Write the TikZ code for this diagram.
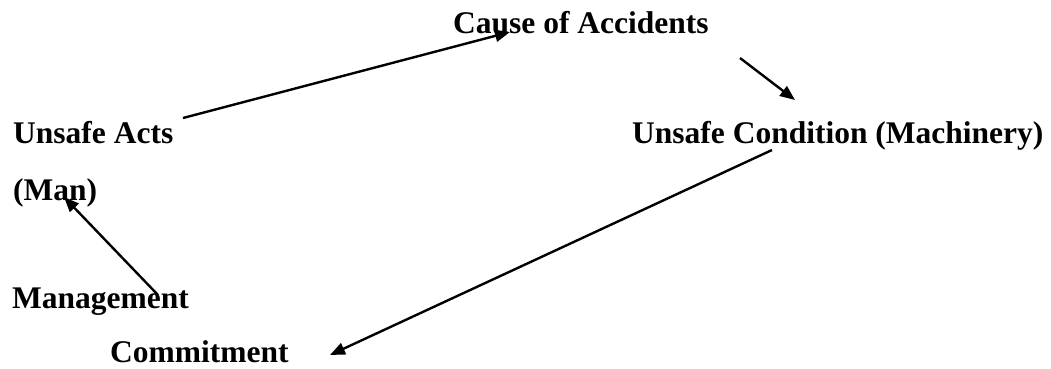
\documentclass[tikz,border=0pt]{standalone}
\usepackage{fontspec}
\setmainfont{Liberation Serif}
\usepackage{tikz}
\usetikzlibrary{arrows.meta}

\begin{document}
\begin{tikzpicture}[x=1pt, y=-1pt,
    lbl/.style={anchor=base west, inner sep=0pt, font=\fontsize{31.5}{36}\selectfont\bfseries},
    flow/.style={line width=2.4pt, -{Triangle[length=15pt, width=12pt]}}]
  \useasboundingbox (0,0) rectangle (1051,368);
  % Labels
  \node[lbl] (cause) at (453,33) {Cause of Accidents};
  \node[lbl] (acts) at (13,143) {Unsafe Acts};
  \node[lbl] (man) at (13,200) {(Man)};
  \node[lbl] (cond) at (632,143) {Unsafe Condition (Machinery)};
  \node[lbl] (mgmt) at (12,308) {Management};
  \node[lbl] (commit) at (110,362) {Commitment};
  % Arrows
  \draw[flow] ([shift={(170,-25)}]acts.base west) -- ([shift={(57,-1)}]cause.base west);
  \draw[flow] ([shift={(287,25)}]cause.base west) -- ([shift={(163,-43)}]cond.base west);
  \draw[flow] ([shift={(140,7)}]cond.base west) -- ([shift={(220,-7)}]commit.base west);
  \draw[flow] ([shift={(146,-13)}]mgmt.base west) -- ([shift={(51,-3)}]man.base west);
\end{tikzpicture}
\end{document}
